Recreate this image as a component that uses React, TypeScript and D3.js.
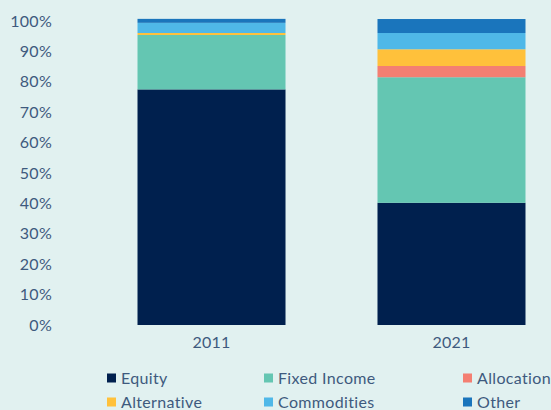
import React from "react";
import * as d3 from "d3";

const years = ["2011", "2021"];
const seriesNames = ["Equity", "Fixed Income", "Allocation", "Alternative", "Commodities", "Other"];
const seriesColors = ["#00204e", "#64c6b2", "#f47f72", "#ffc13b", "#4fb8e8", "#1a75bc"];
const equity = [77.5, 40.2];
const fixedIncome = [17.9, 41.3];
const allocation = [0, 3.7];
const alternative = [0.65, 5.5];
const commodities = [3.35, 5.35];
const other = [1.3, 4.6];
const yTicks = [0, 10, 20, 30, 40, 50, 60, 70, 80, 90, 100];

const W = 551, H = 410;
const textColor = "#3e5a7e";
const font = "Lato, 'Noto Sans', sans-serif";

export default function App() {
  const values = [equity, fixedIncome, allocation, alternative, commodities, other];
  const rows = years.map((y, i) => {
    const r: any = { year: y };
    seriesNames.forEach((s, k) => (r[s] = values[k][i]));
    return r;
  });
  const stack = d3.stack<any>().keys(seriesNames)(rows);
  const x = d3.scaleBand().domain(years).range([91.5, 571.5]).paddingInner(0.3833).paddingOuter(0.1917);
  const y = d3.scaleLinear().domain([0, 100]).range([325, 21]);

  const legendCols = [107, 264, 463];
  const legendRows = [378, 402];

  return (
    <svg width={W} height={H} style={{ position: "absolute", left: 0, top: 0, background: "#e1f1f0" }}>
      <rect width={W} height={H} fill="#e1f1f0" />
      {yTicks.map((t) => (
        <text key={t} x={52} y={y(t)} dy="0.35em" textAnchor="end" fontSize={16} letterSpacing={0.3} fill={textColor} fontFamily={font}>
          {t}%
        </text>
      ))}
      {stack.map((layer, k) => (
        <g key={layer.key} fill={seriesColors[k]}>
          {layer.map((d, i) => (
            <rect key={i} x={x(years[i])} width={x.bandwidth()} y={y(d[1])} height={Math.max(0, y(d[0]) - y(d[1]))} />
          ))}
        </g>
      ))}
      {years.map((yr) => (
        <text key={yr} x={(x(yr) as number) + x.bandwidth() / 2} y={342} dy="0.35em" textAnchor="middle" fontSize={16} letterSpacing={0.2} fill={textColor} fontFamily={font}>
          {yr}
        </text>
      ))}
      {seriesNames.map((s, k) => {
        const cx = legendCols[k % 3];
        const cy = legendRows[Math.floor(k / 3)];
        return (
          <g key={s}>
            <rect x={cx} y={cy - 4.5} width={9} height={9} fill={seriesColors[k]} />
            <text x={cx + 14} y={cy} dy="0.35em" fontSize={16} letterSpacing={0.35} fill={textColor} fontFamily={font}>
              {s}
            </text>
          </g>
        );
      })}
    </svg>
  );
}
